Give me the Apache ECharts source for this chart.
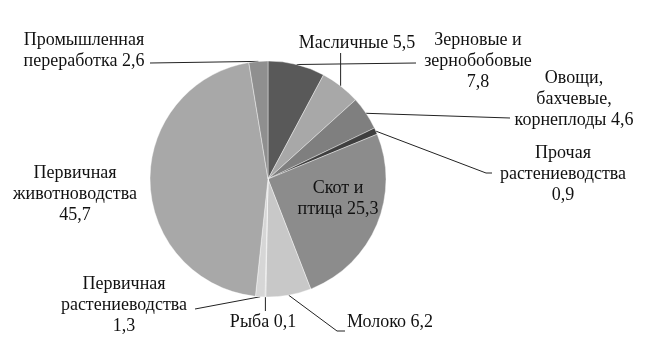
<!DOCTYPE html>
<html><head><meta charset="utf-8">
<script src="https://cdn.jsdelivr.net/npm/echarts@6/dist/echarts.min.js"></script>
<style>html,body{margin:0;padding:0;background:#fff}#c{width:648px;height:342px}</style>
</head><body><div id="c"></div>
<script>
// Data
const categories = ['Зерновые и\nзернобобовые', 'Масличные', 'Овощи,\nбахчевые,\nкорнеплоды', 'Прочая\nрастениеводства', 'Скот и\nптица', 'Молоко', 'Рыба', 'Первичная\nрастениеводства', 'Первичная\nживотноводства', 'Промышленная\nпереработка'];
const values = [7.8, 5.5, 4.6, 0.9, 25.3, 6.2, 0.1, 1.3, 45.7, 2.6];
const valueSep = ['\n', ' ', ' ', '\n', ' ', ' ', ' ', '\n', '\n', ' '];

// Styles / layout
const colors = ['#595959', '#a8a8a8', '#7f7f7f', '#3f3f3f', '#8c8c8c', '#c8c8c8', '#bfbfbf', '#d6d6d6', '#a8a8a8', '#8f8f8f'];
const labelPos = [[478, 61], [357, 43], [574, 99], [563, 174], [338, 199], [390, 322], [263, 322], [124, 305], [75, 194], [84, 51]];
// leader line end points (null x = vertical from slice edge); null entry = no leader line
const lineEnds = [
  [[416, 63]],
  [[null, 53]],
  [[510, 118]],
  [[486, 173], [492, 173]],
  null,
  [[337, 331], [345, 331]],
  [[null, 311]],
  [[195, 309]],
  null,
  [[150, 63]]
];
const insideIdx = 4;

const chart = echarts.init(document.getElementById('c'), null, {renderer: 'canvas'});
const data = categories.map((c, i) => {
  const d = {name: c, value: values[i], itemStyle: {color: colors[i]}};
  if (i === insideIdx) {
    d.label = {position: 'inside'};
  }
  if (!lineEnds[i]) d.labelLine = {show: false};
  return d;
});
chart.setOption({
  animation: false,
  series: [{
    type: 'pie',
    center: [268, 179],
    radius: 118,
    startAngle: 90,
    clockwise: true,
    avoidLabelOverlap: false,
    data: data,
    itemStyle: {borderColor: 'rgba(255,255,255,0.5)', borderWidth: 0.8},
    label: {
      show: true,
      position: 'outside',
      fontFamily: 'Liberation Serif',
      fontSize: 18,
      lineHeight: 21,
      color: '#111',
      align: 'center',
      formatter: p => p.name + valueSep[p.dataIndex] + p.value.toFixed(1).replace('.', ',')
    },
    labelLine: {show: true, length: 10, length2: 6, lineStyle: {color: '#222', width: 1}},
    labelLayout: function (p) {
      const i = p.dataIndex;
      const pos = labelPos[i];
      const res = {x: pos[0], y: pos[1], align: 'center', verticalAlign: 'middle'};
      const ends = lineEnds[i];
      if (ends && p.labelLinePoints) {
        const start = p.labelLinePoints[0];
        res.labelLinePoints = [[start[0], start[1]]].concat(ends.map(e => [e[0] == null ? start[0] : e[0], e[1]]));
      }
      return res;
    }
  }]
});
</script>
</body></html>
